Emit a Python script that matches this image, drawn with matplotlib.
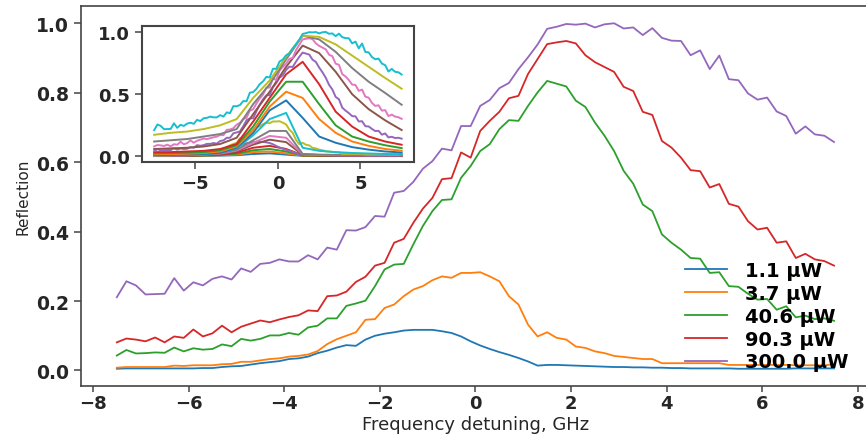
import numpy as np
import matplotlib
matplotlib.use('Agg')
from matplotlib import pyplot as plt

# detuning grid of the main measurements, GHz
detuning = np.linspace(-7.5, 7.5, 76)

refl_1_1 = [0.005, 0.006, 0.006, 0.006, 0.006, 0.006, 0.006, 0.006, 0.006, 0.007,
            0.007, 0.010, 0.012, 0.013, 0.017, 0.021, 0.024, 0.027, 0.033, 0.035,
            0.040, 0.050, 0.057, 0.066, 0.073, 0.071, 0.089, 0.100, 0.106, 0.110,
            0.115, 0.117, 0.117, 0.117, 0.113, 0.108, 0.098, 0.084, 0.072, 0.062,
            0.053, 0.045, 0.036, 0.026, 0.014, 0.016, 0.016, 0.015, 0.014, 0.013,
            0.012, 0.011, 0.010, 0.010, 0.009, 0.009, 0.008, 0.008, 0.007, 0.007,
            0.006, 0.006, 0.006, 0.006, 0.006, 0.005, 0.005, 0.005, 0.005, 0.005,
            0.005, 0.006, 0.006, 0.006, 0.006, 0.006]
refl_3_7 = [0.008, 0.010, 0.010, 0.010, 0.010, 0.010, 0.014, 0.013, 0.015, 0.015,
            0.015, 0.018, 0.019, 0.025, 0.025, 0.029, 0.033, 0.035, 0.040, 0.042,
            0.046, 0.056, 0.076, 0.090, 0.100, 0.110, 0.146, 0.148, 0.180, 0.190,
            0.214, 0.233, 0.243, 0.260, 0.271, 0.267, 0.281, 0.281, 0.283, 0.271,
            0.257, 0.214, 0.190, 0.132, 0.098, 0.110, 0.094, 0.089, 0.069, 0.065,
            0.055, 0.050, 0.042, 0.039, 0.036, 0.033, 0.033, 0.021, 0.021, 0.021,
            0.021, 0.021, 0.021, 0.021, 0.016, 0.016, 0.016, 0.016, 0.016, 0.016,
            0.016, 0.015, 0.015, 0.015, 0.015, 0.018]
refl_40_6 = [0.043, 0.059, 0.049, 0.050, 0.052, 0.051, 0.066, 0.055, 0.064, 0.060,
             0.062, 0.075, 0.070, 0.091, 0.086, 0.091, 0.101, 0.101, 0.108, 0.103,
             0.124, 0.129, 0.150, 0.150, 0.186, 0.193, 0.201, 0.243, 0.291, 0.305,
             0.307, 0.363, 0.416, 0.459, 0.491, 0.493, 0.555, 0.589, 0.632, 0.652,
             0.695, 0.721, 0.719, 0.762, 0.801, 0.834, 0.826, 0.818, 0.777, 0.759,
             0.714, 0.676, 0.632, 0.575, 0.538, 0.478, 0.459, 0.392, 0.368, 0.348,
             0.324, 0.322, 0.281, 0.283, 0.243, 0.241, 0.221, 0.204, 0.206, 0.175,
             0.185, 0.153, 0.158, 0.148, 0.150, 0.143]
refl_90_3 = [0.081, 0.092, 0.089, 0.084, 0.095, 0.081, 0.098, 0.094, 0.118, 0.098,
             0.107, 0.129, 0.110, 0.126, 0.135, 0.144, 0.139, 0.147, 0.154, 0.159,
             0.173, 0.171, 0.214, 0.216, 0.227, 0.255, 0.270, 0.302, 0.310, 0.368,
             0.379, 0.425, 0.466, 0.497, 0.551, 0.554, 0.628, 0.613, 0.690, 0.719,
             0.745, 0.784, 0.791, 0.854, 0.897, 0.940, 0.945, 0.949, 0.942, 0.908,
             0.888, 0.874, 0.860, 0.817, 0.805, 0.745, 0.736, 0.661, 0.642, 0.613,
             0.577, 0.574, 0.527, 0.537, 0.480, 0.472, 0.430, 0.406, 0.411, 0.368,
             0.372, 0.324, 0.336, 0.320, 0.315, 0.302]
refl_300 = [0.211, 0.257, 0.245, 0.219, 0.220, 0.221, 0.266, 0.230, 0.254, 0.245,
            0.264, 0.271, 0.262, 0.294, 0.284, 0.307, 0.310, 0.320, 0.314, 0.314,
            0.332, 0.320, 0.354, 0.348, 0.404, 0.403, 0.413, 0.445, 0.443, 0.512,
            0.517, 0.543, 0.581, 0.603, 0.639, 0.634, 0.704, 0.704, 0.762, 0.779,
            0.813, 0.828, 0.868, 0.902, 0.939, 0.984, 0.990, 0.998, 0.996, 0.999,
            0.988, 0.997, 1.000, 0.985, 0.988, 0.966, 0.986, 0.958, 0.950, 0.949,
            0.908, 0.922, 0.868, 0.907, 0.839, 0.836, 0.798, 0.780, 0.786, 0.746,
            0.733, 0.682, 0.703, 0.680, 0.676, 0.658]

powers = ['1.1 μW', '3.7 μW', '40.6 μW', '90.3 μW', '300.0 μW']
main_series = [refl_1_1, refl_3_7, refl_40_6, refl_90_3, refl_300]

# the full power scan (inset), coarser grid for the extra powers
detuning_scan = np.arange(-7.5, 8.0, 1.0)
scan = {
    0: [0.003, 0.003, 0.004, 0.005, 0.007, 0.010, 0.020, 0.025, 0.015, 0.005, 0.004, 0.004, 0.003, 0.003, 0.003, 0.003],
    1: [0.004, 0.004, 0.005, 0.007, 0.010, 0.015, 0.035, 0.040, 0.025, 0.006, 0.005, 0.005, 0.004, 0.004, 0.004, 0.004],
    2: [0.005, 0.005, 0.006, 0.008, 0.012, 0.022, 0.050, 0.060, 0.040, 0.008, 0.006, 0.006, 0.005, 0.005, 0.005, 0.005],
    3: [0.005, 0.006, 0.007, 0.010, 0.015, 0.030, 0.070, 0.085, 0.060, 0.010, 0.008, 0.007, 0.006, 0.006, 0.006, 0.006],
    5: [0.006, 0.007, 0.008, 0.012, 0.020, 0.040, 0.095, 0.135, 0.115, 0.013, 0.010, 0.009, 0.008, 0.008, 0.008, 0.008],
    6: [0.007, 0.008, 0.010, 0.014, 0.024, 0.048, 0.110, 0.165, 0.150, 0.016, 0.012, 0.011, 0.010, 0.010, 0.010, 0.010],
    7: [0.008, 0.009, 0.011, 0.016, 0.028, 0.055, 0.130, 0.205, 0.205, 0.020, 0.015, 0.013, 0.012, 0.012, 0.012, 0.012],
    9: [0.010, 0.011, 0.013, 0.018, 0.030, 0.065, 0.170, 0.300, 0.350, 0.070, 0.045, 0.035, 0.028, 0.024, 0.020, 0.018],
    10: [0.012, 0.013, 0.015, 0.020, 0.030, 0.070, 0.190, 0.370, 0.450, 0.310, 0.160, 0.110, 0.075, 0.055, 0.040, 0.032],
    11: [0.018, 0.020, 0.022, 0.027, 0.040, 0.080, 0.210, 0.400, 0.520, 0.470, 0.300, 0.190, 0.120, 0.085, 0.060, 0.046],
    12: [0.025, 0.027, 0.030, 0.035, 0.050, 0.090, 0.240, 0.440, 0.600, 0.600, 0.420, 0.250, 0.160, 0.120, 0.090, 0.067],
    13: [0.035, 0.035, 0.040, 0.045, 0.060, 0.100, 0.280, 0.470, 0.660, 0.760, 0.580, 0.360, 0.240, 0.160, 0.120, 0.094],
    15: [0.060, 0.065, 0.070, 0.080, 0.100, 0.150, 0.340, 0.520, 0.720, 0.890, 0.830, 0.680, 0.500, 0.380, 0.290, 0.212],
    17: [0.120, 0.130, 0.140, 0.160, 0.180, 0.220, 0.420, 0.580, 0.780, 0.970, 0.940, 0.840, 0.710, 0.600, 0.510, 0.415],
    18: [0.174, 0.190, 0.200, 0.220, 0.250, 0.300, 0.470, 0.610, 0.800, 0.970, 0.960, 0.900, 0.810, 0.720, 0.630, 0.544],
}
# powers of the main plot inside the scan
scan_main = {4: refl_1_1, 8: refl_3_7, 14: refl_40_6, 16: refl_90_3, 19: refl_300}

plt.rcParams['font.family'] = 'DejaVu Sans'
dark = '#262626'
spine_col = '#444444'

fig = plt.figure(figsize=(8.66, 4.35), dpi=100)
ax = fig.add_axes([0.0935, 0.1103, 0.911, 0.8736])

for y, lab in zip(main_series, powers):
    ax.plot(detuning, y, lw=1.3, label=lab)

ax.set_xlabel('Frequency detuning, GHz', fontsize=13, color=dark, va='bottom')
ax.xaxis.set_label_coords(0.5, -0.1235)
ax.set_ylabel('Reflection', fontsize=11, color=dark, labelpad=4)
ax.set_xticks([-8, -6, -4, -2, 0, 2, 4, 6, 8])
ax.set_yticks([0.0, 0.2, 0.4, 0.6, 0.8, 1.0])
ax.tick_params(direction='out', length=5, width=1.1, color=spine_col,
               labelsize=13.5, labelcolor=dark)
ax.tick_params(axis='x', length=4, pad=1.5, labelsize=13)
for t in ax.get_xticklabels() + ax.get_yticklabels():
    t.set_fontweight('bold')
for s in ax.spines.values():
    s.set_color(spine_col)
    s.set_linewidth(1.2)

ax.legend(loc='center', bbox_to_anchor=(0.885, 0.271), bbox_transform=fig.transFigure,
          frameon=False, prop={'weight': 'bold', 'size': 14},
          labelspacing=0.2, handlelength=2.2, handletextpad=0.9)

# inset with the whole set of powers
ins = fig.add_axes([0.1637, 0.6246, 0.3144, 0.314])
for i in range(20):
    if i in scan_main:
        ins.plot(detuning, scan_main[i], lw=1.4)
    else:
        ins.plot(detuning_scan, scan[i], lw=1.4)
ins.set_xticks([-5, 0, 5])
ins.set_yticks([0.0, 0.5, 1.0])
ins.tick_params(direction='out', length=5, width=1.1, color=spine_col,
                labelsize=13, labelcolor=dark)
for t in ins.get_xticklabels() + ins.get_yticklabels():
    t.set_fontweight('bold')
for s in ins.spines.values():
    s.set_color(spine_col)
    s.set_linewidth(1.5)

fig.savefig('out.png', dpi=100)
